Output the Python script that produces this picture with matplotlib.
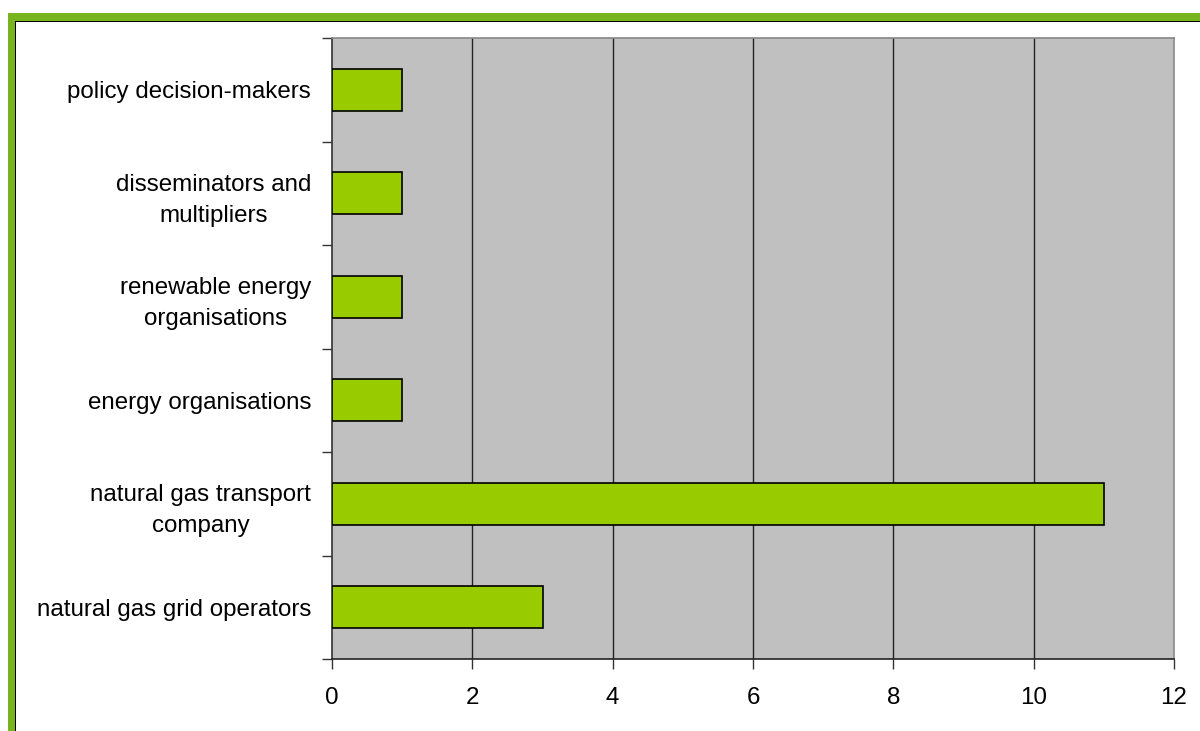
import matplotlib
matplotlib.use("Agg")
import matplotlib.pyplot as plt
from matplotlib.patches import Rectangle

categories = [
    "natural gas grid operators",
    "natural gas transport\ncompany",
    "energy organisations",
    "renewable energy\norganisations",
    "disseminators and\nmultipliers",
    "policy decision-makers",
]
values = [3, 11, 1, 1, 1, 1]
x_ticks = [0, 2, 4, 6, 8, 10, 12]

W, H = 1200, 731
fig = plt.figure(figsize=(W / 100, H / 100), dpi=100)
plt.rcParams["font.family"] = ["Liberation Sans", "DejaVu Sans"]

# green frame around the chart area (top and left edges visible)
def px_rect(x0, y0, x1, y1, color, z):
    fig.patches.append(Rectangle((x0 / W, 1 - y1 / H), (x1 - x0) / W, (y1 - y0) / H,
                                 transform=fig.transFigure, color=color, zorder=z, lw=0))

px_rect(8, 13, W + 10, H + 10, "#78B41E", 0)
px_rect(15, 21, W + 10, H + 10, "#000000", 1)
px_rect(16, 22, W + 10, H + 10, "#FFFFFF", 2)

ax = fig.add_axes([332 / W, 1 - 659 / H, (1174 - 332) / W, (659 - 38) / H])
ax.set_zorder(3)
ax.set_facecolor("#C0C0C0")

pos = list(range(len(categories)))
ax.barh(pos, values, height=0.41, color="#99CC00", edgecolor="black", linewidth=1.2, zorder=3)

ax.set_xlim(0, 12)
ax.set_ylim(-0.5, len(categories) - 0.5)
ax.set_xticks(x_ticks)
ax.set_xticklabels([str(t) for t in x_ticks], fontsize=17.4)
ax.tick_params(axis="x", length=7, width=1, pad=13, color="#333333")

# category labels at centers, tick marks at the band boundaries
ax.set_yticks(pos)
ax.set_yticklabels(categories, fontsize=17.4, linespacing=1.52, ha="right",
                   multialignment="center")
ax.tick_params(axis="y", which="major", length=0, pad=15)
ax.set_yticks([p - 0.5 for p in pos] + [len(pos) - 0.5], minor=True)
ax.tick_params(axis="y", which="minor", length=7, width=1, color="#333333")

for x in x_ticks[1:-1]:
    ax.axvline(x, color="#222222", lw=1.0, zorder=1)

ax.spines["left"].set_color("#333333")
ax.spines["bottom"].set_color("#222222")
ax.spines["top"].set_color("#888888")
ax.spines["right"].set_color("#888888")
for s in ax.spines.values():
    s.set_linewidth(1.2)

fig.savefig("out.png", dpi=100)
